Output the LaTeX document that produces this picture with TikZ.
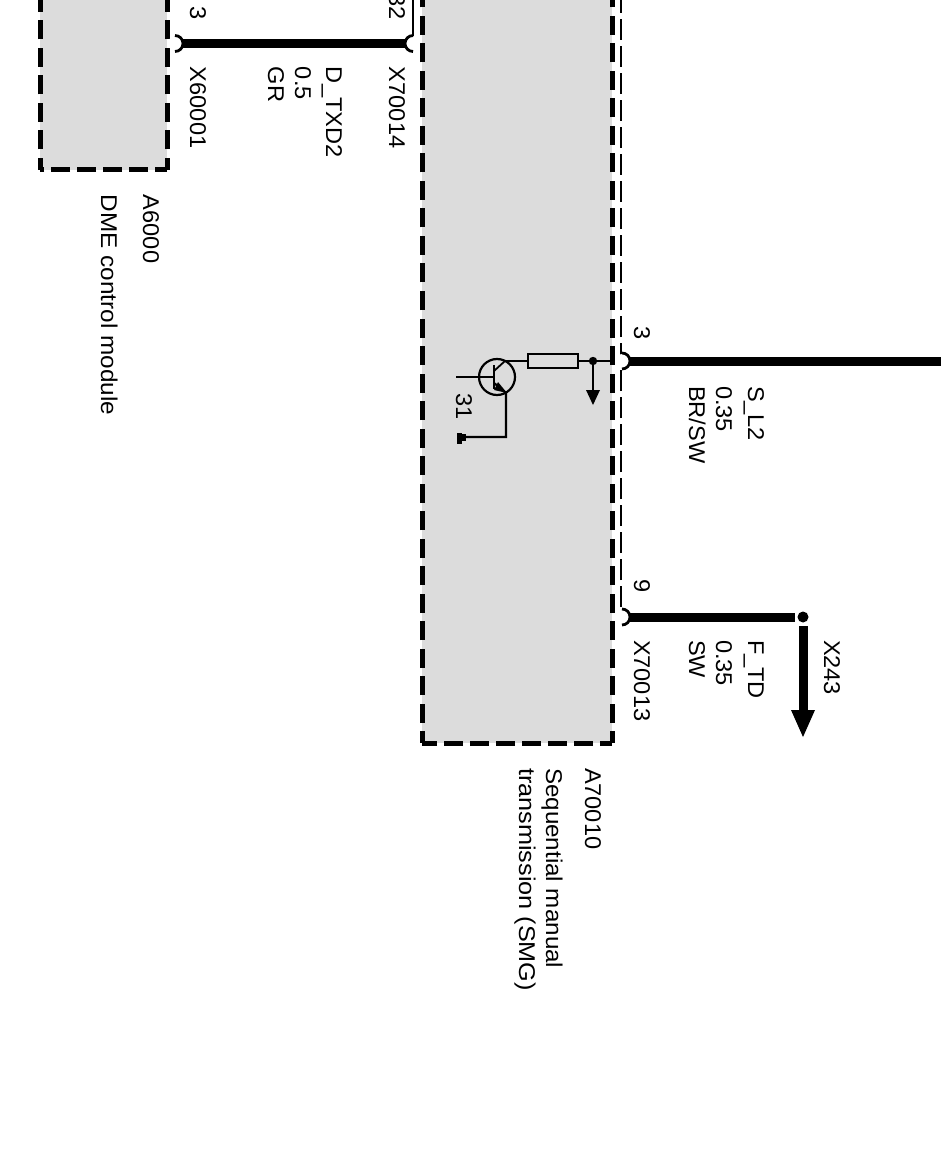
\documentclass[tikz,border=0pt]{standalone}
\usepackage{fontspec}
\setmainfont{Liberation Sans}
\begin{document}
\begin{tikzpicture}[x=1pt,y=-1pt,
  lbl/.style={xshift=1pt,rotate=-90,xscale=1.035,anchor=base west,inner sep=0pt,outer sep=0pt,font=\fontsize{22.8}{26}\selectfont,text=black},
  lble/.style={lbl,anchor=base east},
  modv/.style={line width=5pt,dash pattern=on 19pt off 8.5pt,dash phase=7pt},
  modh/.style={line width=5pt,dash pattern=on 19pt off 7pt,dash phase=7pt},
  shield/.style={line width=1.7pt,dash pattern=on 21pt off 6pt},
  wire/.style={line width=9pt},
  pinarc/.style={line width=2.8pt},
  thin/.style={line width=1.8pt},
  sym/.style={line width=2.2pt}]
\definecolor{boxgray}{HTML}{DCDCDC}
\useasboundingbox (0,0) rectangle (941,1155);
\clip (0,0) rectangle (941,1155);
% named points
\coordinate (dmeTL) at (40,-10);
\coordinate (dmeBL) at (40,170);
\coordinate (dmeBR) at (167,170);
\coordinate (dmeTR) at (167,-10);
\coordinate (smgTL) at (422,-10);
\coordinate (smgBL) at (422,743);
\coordinate (smgBR) at (612,743);
\coordinate (smgTR) at (612,-10);
\coordinate (pA) at (175,43.5);
\coordinate (pB) at (413,43.5);
\coordinate (pC) at (622,361);
\coordinate (pD) at (622,617);
\coordinate (eastEnd) at (945,361);
\coordinate (splice) at (803,617);
\coordinate (tipF) at (803,737);
% module fills
\fill[boxgray] (dmeTL) rectangle (dmeBR);
\fill[boxgray] (smgTL) rectangle (smgBR);
% module outlines
\draw[modv] (dmeBL) -- (dmeTL);
\draw[modv] (dmeBR) -- (dmeTR);
\draw[modh] (dmeBR) -- (dmeBL);
\draw[modv] (smgBL) -- (smgTL);
\draw[modv] (smgBR) -- (smgTR);
\draw[modh] (smgBR) -- (smgBL);
% shields
\draw[shield] (621,607) -- (621,-10);
\draw[line width=1.7pt] (413,36) -- (413,-10);
% wires
\draw[wire] (181,43.5) -- (406,43.5);
\draw[wire] (628,361) -- (eastEnd);
\draw[wire] (628,617) -- (795,617);
\draw[wire] (803,626) -- (803,712);
% connector pins
\fill[white] (pA) circle[radius=7];
\fill[white] (pB) circle[radius=7];
\fill[white] (pC) circle[radius=7];
\fill[white] (pD) circle[radius=7];
\draw[pinarc] (pA) ++(0,-8) arc[start angle=-90,end angle=90,radius=8];
\draw[pinarc] (pB) ++(0,-8) arc[start angle=-90,end angle=-270,radius=8];
\draw[pinarc] (pC) ++(0,-8) arc[start angle=-90,end angle=90,radius=8];
\draw[pinarc] (pD) ++(0,-8) arc[start angle=-90,end angle=90,radius=8];
% splice and arrow
\fill (splice) circle[radius=5.5];
\fill (791,710) -- (815,710) -- (tipF) -- cycle;
% internal circuit
\coordinate (dot) at (593,361);
\coordinate (tc) at (497,377);
\node[draw,sym,fill=boxgray,minimum width=50pt,minimum height=14pt,inner sep=0pt,outer sep=0pt] (res) at (553,361) {};
\draw[thin] (612,361) -- (res.east);
\draw[thin] (res.west) -- (505,361);
\fill (dot) circle[radius=4.2];
\draw[sym] (dot) -- (593,391);
\fill (586,390) -- (600,390) -- (593,405) -- cycle;
\draw[sym] (tc) circle[radius=18];
\draw[thin] (456,377) -- (494,377);
\draw[line width=2.4pt] (494,365) -- (494,389);
\draw[thin] (494,371) -- (505,361);
\draw[line width=2.2pt] (494,383) -- (506,393) -- (506,437) -- (463,437);
\fill (498,382) -- (507,393) -- (494,390) -- cycle;
\fill (457,433) rectangle (462,444);
\fill (462,433.5) rectangle (466,440.5);
% labels
\node[lble] (n3a) at (189,20) {3};
\node[lbl] (x60001) at (189,67) {X60001};
\node[lbl] (txd) at (325,67) {D\_TXD2};
\node[lbl] (txd2) at (294,67) {0.5};
\node[lbl] (txd3) at (267,67) {GR};
\node[lble] (n32) at (388,20) {32};
\node[lbl] (x70014) at (388,67) {X70014};
\node[lbl] (a6000) at (142,195) {A6000};
\node[lbl,xscale=1.03] (dme) at (100,195) {DME control module};
\node[lble] (n3b) at (633,340) {3};
\node[lbl] (sl) at (747,386) {S\_L2};
\node[lbl] (sl2) at (715,386) {0.35};
\node[lbl] (sl3) at (688,386) {BR/SW};
\node[lble] (n9) at (633,593) {9};
\node[lbl] (x70013) at (633,640) {X70013};
\node[lbl] (ftd) at (747,640) {F\_TD};
\node[lbl] (ftd2) at (715,640) {0.35};
\node[lbl] (ftd3) at (688,640) {SW};
\node[lbl] (x243) at (823,640) {X243};
\node[lbl] (n31) at (455,393) {31};
\node[lbl] (a70010) at (584,768) {A70010};
\node[lbl,xscale=1.025] (smg1) at (545,768) {Sequential manual};
\node[lbl,xscale=1.07] (smg2) at (518,768) {transmission (SMG)};
\end{tikzpicture}
\end{document}
